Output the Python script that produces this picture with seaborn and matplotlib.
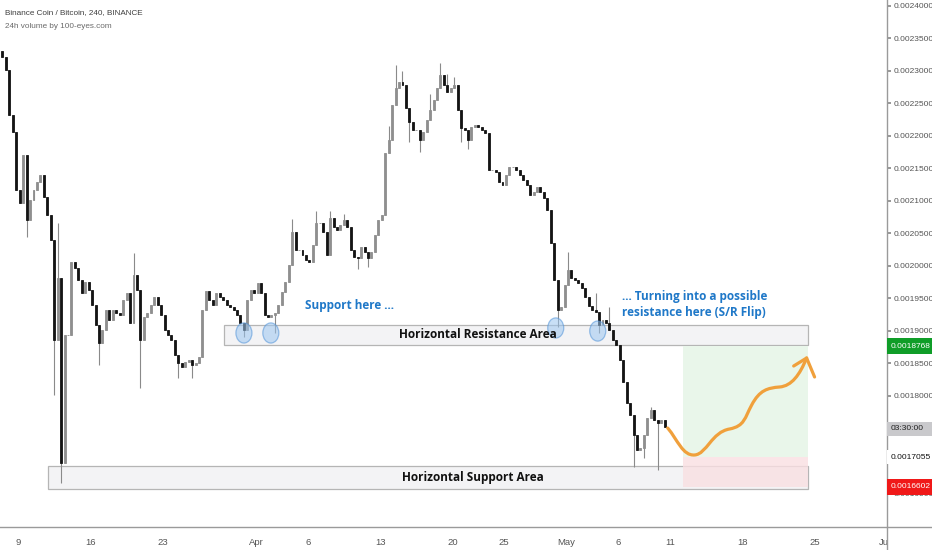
import matplotlib
matplotlib.use("Agg")
import matplotlib.pyplot as plt
import matplotlib.dates as mdates
from matplotlib.patches import Rectangle, Ellipse, PathPatch
from matplotlib.path import Path
from matplotlib.lines import Line2D
import seaborn as sns
import pandas as pd
import numpy as np

# BNB/BTC, 8h candles, prices in micro-BTC (1e-6 BTC)
first_open = 2330
candle_start = "2020-03-07 08:00"
closes = [
    2322, 2301, 2232, 2206, 2117, 2097, 2171, 2071, 2101, 2117,
    2129, 2140, 2106, 2078, 2040, 1886, 1981, 1697, 1894, 1894,
    2006, 1997, 1978, 1958, 1975, 1963, 1940, 1909, 1881, 1901,
    1932, 1917, 1932, 1928, 1925, 1948, 1958, 1912, 1986, 1963,
    1886, 1921, 1928, 1940, 1952, 1940, 1925, 1901, 1894, 1886,
    1863, 1851, 1845, 1852, 1855, 1848, 1851, 1860, 1932, 1961,
    1948, 1940, 1958, 1952, 1948, 1940, 1937, 1932, 1925, 1912,
    1901, 1948, 1963, 1958, 1974, 1958, 1925, 1921, 1925, 1928,
    1940, 1960, 1975, 2002, 2052, 2025, 2025, 2017, 2009, 2006,
    2032, 2066, 2066, 2052, 2017, 2074, 2060, 2055, 2063, 2071,
    2060, 2025, 2014, 2012, 2029, 2022, 2012, 2022, 2048, 2071,
    2078, 2174, 2194, 2248, 2274, 2283, 2278, 2243, 2222, 2209,
    2209, 2194, 2206, 2225, 2240, 2255, 2274, 2294, 2278, 2268,
    2274, 2278, 2240, 2212, 2209, 2194, 2214, 2217, 2214, 2209,
    2205, 2148, 2148, 2145, 2129, 2125, 2140, 2152, 2152, 2148,
    2140, 2132, 2125, 2109, 2114, 2122, 2114, 2105, 2086, 2035,
    1978, 1932, 1937, 1971, 1994, 1981, 1978, 1974, 1966, 1952,
    1938, 1932, 1929, 1909, 1917, 1912, 1901, 1886, 1878, 1855,
    1822, 1789, 1771, 1740, 1717, 1720, 1740, 1766, 1778, 1763,
    1758, 1763, 1752,
]
# candle index -> wick extreme, where the wick sticks out of the body
wick_highs = {16: 2066, 38: 2020, 84: 2072, 91: 2085, 95: 2085, 99: 2080,
              112: 2215, 114: 2309, 116: 2300, 124: 2265, 127: 2312, 129: 2295,
              131: 2290, 164: 2022, 172: 1958, 176: 1937, 188: 1783}
wick_lows = {7: 2045, 15: 1801, 17: 1666, 28: 1848, 40: 1812, 51: 1828,
             55: 1828, 70: 1891, 79: 1897, 103: 1995, 106: 1998, 118: 2190,
             121: 2175, 133: 2190, 135: 2180, 161: 1906, 173: 1897,
             183: 1691, 186: 1705, 190: 1686}

# levels (micro-BTC)
resistance_zone = (1878.4, 1909.2)
support_zone = (1656.9, 1692.3)
target_price = 1876.8
entry_price = 1705.5
stop_price = 1660.2
last_price = 1749.2

tick_dates = ["2020-03-09", "2020-03-16", "2020-03-23", "2020-04-01", "2020-04-06",
              "2020-04-13", "2020-04-20", "2020-04-25", "2020-05-01", "2020-05-06",
              "2020-05-11", "2020-05-18", "2020-05-25", "2020-06-01"]
tick_labels = ["9", "16", "23", "Apr", "6", "13", "20", "25", "May", "6",
               "11", "18", "25", "Jun"]
price_ticks = list(range(1650, 2401, 50))
hidden_ticks = [1700, 1750]  # covered by the entry / countdown labels

sns.set_theme(style="white")
plt.rcParams["font.family"] = ["Liberation Sans", "DejaVu Sans"]

base = mdates.date2num(pd.Timestamp("2020-03-09"))


def d(day):
    return base + day


times = mdates.date2num(pd.date_range(candle_start, periods=len(closes), freq="8h")) + 4 / 24
closes_arr = np.array(closes, dtype=float)
opens = np.concatenate([[first_open], closes_arr[:-1]])
highs = np.maximum(opens, closes_arr)
lows = np.minimum(opens, closes_arr)
for i, v in wick_highs.items():
    highs[i] = v
for i, v in wick_lows.items():
    lows[i] = v
up = closes_arr >= opens

fig = plt.figure(figsize=(9.32, 5.5), dpi=100)
ax = fig.add_axes([0, 23 / 550, 887 / 932, 527 / 550])

# zones
ax.add_patch(Rectangle((d(2.9), support_zone[0]), 76.33 - 2.9, support_zone[1] - support_zone[0],
                       fc="#f3f3f5", ec="#b5b5b5", lw=0.9, zorder=1))
ax.add_patch(Rectangle((d(19.9), resistance_zone[0]), 76.33 - 19.9, resistance_zone[1] - resistance_zone[0],
                       fc="#f3f3f5", ec="#b5b5b5", lw=0.9, zorder=1))
ax.add_patch(Rectangle((d(64.25), entry_price), 76.33 - 64.25, target_price - entry_price,
                       fc="#e9f6ea", ec="none", zorder=1.5))
ax.add_patch(Rectangle((d(64.25), stop_price), 76.33 - 64.25, entry_price - stop_price,
                       fc="#f9dfe2", ec="none", alpha=0.8, zorder=1.5))

# candles
ax.vlines(times, lows, highs, color="#8a8a8a", lw=0.8, zorder=2)
body_col = np.where(up, "#8f8f8f", "#141414")
ax.bar(times, np.abs(closes_arr - opens), bottom=np.minimum(opens, closes_arr), width=0.19,
       color=body_col, edgecolor=body_col, lw=0.6, zorder=3)

# touch circles
for cx, cy in [(21.84, 1896.9), (24.44, 1896.9), (51.98, 1904.6), (56.04, 1899.9)]:
    ax.add_patch(Ellipse((d(cx), cy), 1.55, 31, fc="#9cc6f0", ec="#4f92d8", lw=0.9,
                         alpha=0.55, zorder=4))

# texts
blue = "#1f78c8"
bold_font = ["Open Sans", "DejaVu Sans"]
ax.text(d(27.73), 1939.9, "Support here ...", color=blue, fontsize=8.5, fontweight="bold",
        family=bold_font, va="center", ha="left", zorder=5)
ax.text(d(58.36), 1940.7, "... Turning into a possible\nresistance here (S/R Flip)", color=blue,
        fontsize=8.5, fontweight="bold", family=bold_font, va="center", ha="left",
        linespacing=1.3, zorder=5)
ax.text(d(44.44), 1893.8, "Horizontal Resistance Area", color="#111", fontsize=8.5,
        fontweight="bold", family=bold_font, va="center", ha="center", zorder=5)
ax.text(d(43.96), 1675.3, "Horizontal Support Area", color="#111", fontsize=8.5,
        fontweight="bold", family=bold_font, va="center", ha="center", zorder=5)

# projected path (drawn arrow)
verts = [(62.80, 1750.7),
         (63.77, 1732.3), (64.25, 1707.7), (65.41, 1709.2),
         (66.57, 1710.7), (67.05, 1744.6), (68.79, 1749.2),
         (70.24, 1753.8), (70.24, 1766.1), (70.92, 1786.1),
         (71.69, 1809.2), (72.46, 1812.3), (73.62, 1813.8),
         (74.78, 1815.4), (75.56, 1832.3), (76.23, 1858.4)]
codes = [Path.MOVETO] + [Path.CURVE4] * 15
path = Path([(d(a), b) for a, b in verts], codes)
orange = "#f0a03c"
ax.add_patch(PathPatch(path, fc="none", ec=orange, lw=2.3, capstyle="round", zorder=6))
ax.plot([d(74.98), d(76.23), d(77.0)], [1846.1, 1858.4, 1829.2], color=orange, lw=2.3,
        solid_capstyle="round", solid_joinstyle="round", zorder=6)

# axes
ax.set_xlim(d(-1.739), d(84.0))
ax.set_ylim(1598.4, 2409.2)
ax.set_xticks(mdates.date2num(pd.to_datetime(tick_dates)))
ax.set_xticklabels(tick_labels)
ax.set_yticks(price_ticks)
ax.set_yticklabels(["" if v in hidden_ticks else f"{v / 1e6:.7f}" for v in price_ticks])
ax.yaxis.tick_right()
ax.tick_params(axis="y", length=3, color="#8a8a8a", labelsize=6.0, labelcolor="#555555", pad=1.5)
ax.tick_params(axis="x", length=3, color="#8a8a8a", labelsize=6.8, labelcolor="#555555", pad=5)
for s in ["top", "left"]:
    ax.spines[s].set_visible(False)
for s in ["right", "bottom"]:
    ax.spines[s].set_color("#9a9a9a")
    ax.spines[s].set_linewidth(1.0)
ax.grid(False)

# price scale labels: full-width boxes over the scale
yt = ax.get_yaxis_transform()
scale_w = 932 / 887 - 1.0
for price, fc, h in [(target_price, "#0f9d28", 24.6), (last_price, "#c9c9cc", 21.5),
                     (entry_price, "white", 21.5), (stop_price, "#f01818", 24.6)]:
    ax.add_patch(Rectangle((1.0, price - h / 2), scale_w, h, transform=yt, fc=fc, ec="none",
                           clip_on=False, zorder=10))
lab = dict(transform=yt, ha="left", va="center", fontsize=6.0, clip_on=False, zorder=11)
ax.text(1.0045, target_price, "0.0018768", color="white", **lab)
ax.text(1.0045, last_price, "03:30:00", color="#222", **lab)
ax.text(1.0045, entry_price, "0.0017055", color="#111", **lab)
ax.text(1.0045, stop_price, "0.0016602", color="white", **lab)

# header
fig.text(5 / 932, 1 - 13 / 550, "Binance Coin / Bitcoin, 240, BINANCE", fontsize=5.9,
         color="#3f3f3f", va="center")
fig.text(5 / 932, 1 - 27 / 550, "24h volume by 100-eyes.com", fontsize=5.9,
         color="#6a6a6a", va="center")

# cover of the time scale under the price scale
fig.add_artist(Rectangle((887 / 932, 0), 1, 23 / 550, transform=fig.transFigure,
                         fc="white", ec="none", zorder=5))
fig.add_artist(Line2D([887 / 932, 1], [23 / 550, 23 / 550], color="#9a9a9a", lw=1.0, zorder=6))
fig.add_artist(Line2D([887 / 932, 887 / 932], [0, 23 / 550], color="#9a9a9a", lw=1.0, zorder=6))

fig.savefig("out.png", dpi=100)
